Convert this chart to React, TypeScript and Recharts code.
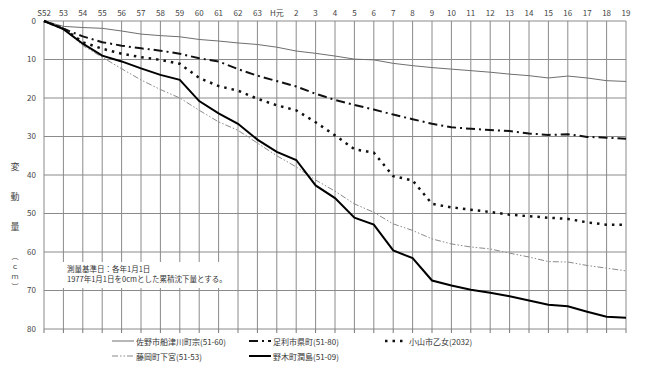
import { LineChart, Line, XAxis, YAxis, CartesianGrid } from 'recharts';

const years = [
  'S52', '53', '54', '55', '56', '57', '58', '59', '60', '61', '62', '63',
  'H元', '2', '3', '4', '5', '6', '7', '8', '9', '10', '11', '12', '13', '14',
  '15', '16', '17', '18', '19',
];

// 累積沈下量 (cm)
const sano = [0, 1.4, 1.7, 1.9, 2.6, 3.4, 3.8, 4.1, 4.8, 5.2, 5.7, 6.1, 6.8, 7.8, 8.4, 9.1, 9.9, 10.1, 11.0, 11.6, 12.1, 12.5, 12.9, 13.3, 13.8, 14.2, 14.8, 14.3, 14.8, 15.5, 15.7];
const ashikaga = [0, 2.0, 4.0, 5.5, 6.4, 7.1, 7.7, 8.5, 9.7, 10.5, 12.5, 14.2, 15.6, 17.0, 18.9, 20.5, 21.8, 23.0, 24.3, 25.5, 26.7, 27.6, 28.0, 28.3, 28.6, 29.2, 29.6, 29.4, 30.1, 30.3, 30.6];
const oyama = [0, 1.9, 5.5, 7.2, 8.5, 9.4, 10.1, 11.1, 14.8, 16.9, 18.1, 20.2, 21.9, 23.2, 26.3, 29.7, 33.3, 34.2, 40.3, 41.4, 47.5, 48.4, 49.0, 49.6, 50.3, 50.7, 51.1, 51.4, 52.3, 52.9, 52.9];
const fujioka = [0, 2.0, 6.4, 9.4, 12.4, 15.3, 17.8, 20.0, 23.2, 26.2, 28.4, 31.7, 35.0, 37.9, 41.3, 44.2, 47.5, 49.7, 52.7, 54.4, 56.6, 57.9, 58.7, 59.2, 60.3, 61.3, 62.5, 62.6, 63.5, 64.2, 64.9];
const nogi = [0, 2.1, 5.9, 9.0, 10.5, 12.3, 14.0, 15.3, 20.8, 24.0, 26.7, 30.8, 34.0, 36.1, 42.7, 46.0, 51.1, 52.9, 59.6, 61.6, 67.4, 68.7, 69.8, 70.6, 71.5, 72.6, 73.7, 74.1, 75.5, 76.8, 77.1];

const yTicks = [0, 10, 20, 30, 40, 50, 60, 70, 80];

const data = years.map((y, i) => ({
  year: y,
  sano: sano[i],
  ashikaga: ashikaga[i],
  oyama: oyama[i],
  fujioka: fujioka[i],
  nogi: nogi[i],
}));

const FONT = '"Noto Sans CJK JP", "Noto Sans", sans-serif';

const series = [
  { key: 'sano', name: '佐野市船津川町宗(51-60)', color: '#6e6e6e', width: 1, dash: undefined },
  { key: 'ashikaga', name: '足利市県町(51-80)', color: '#111', width: 2, dash: '9 4 2 4' },
  { key: 'oyama', name: '小山市乙女(2032)', color: '#111', width: 2.5, dash: '2.5 5' },
  { key: 'fujioka', name: '藤岡町下宮(51-53)', color: '#8a8a8a', width: 1, dash: '6 2 1.5 2 1.5 2' },
  { key: 'nogi', name: '野木町潤島(51-09)', color: '#000', width: 2, dash: undefined },
];

const legendPos = [
  { x: 112, y: 341 },
  { x: 249, y: 341 },
  { x: 385, y: 341 },
  { x: 112, y: 356 },
  { x: 249, y: 356 },
];

const titleChars = [
  { c: '変', y: 167 },
  { c: '動', y: 197 },
  { c: '量', y: 227 },
  { c: '︵', y: 256 },
  { c: 'ｃ', y: 266 },
  { c: 'ｍ', y: 276 },
  { c: '︶', y: 286 },
];

export default function App() {
  return (
    <div style={{ position: 'absolute', left: 0, top: 0, width: 650, height: 368, background: '#fff', fontFamily: FONT }}>
      <LineChart width={650} height={368} data={data} margin={{ top: 0, right: 24, left: 0, bottom: 35 }}>
        <CartesianGrid stroke="#8a8a8a" strokeWidth={1} />
        <XAxis
          dataKey="year"
          orientation="top"
          height={21}
          tickSize={0}
          tickMargin={5}
          axisLine={false}
          interval={0}
          tick={{ fontSize: 8, fill: '#444', fontFamily: FONT }}
        />
        <XAxis
          xAxisId="bottom"
          dataKey="year"
          orientation="bottom"
          height={4}
          tickSize={4}
          axisLine={false}
          interval={0}
          tickLine={{ stroke: '#777' }}
          tickFormatter={() => ''}
        />
        <YAxis
          width={44}
          domain={[0, 80]}
          ticks={yTicks}
          reversed
          tickSize={0}
          tickMargin={8}
          axisLine={false}
          interval={0}
          tick={{ fontSize: 8, fill: '#444', fontFamily: FONT }}
        />
        {series.map((s) => (
          <Line
            key={s.key}
            dataKey={s.key}
            type="linear"
            stroke={s.color}
            strokeWidth={s.width}
            strokeDasharray={s.dash}
            dot={false}
            activeDot={false}
            isAnimationActive={false}
          />
        ))}
      </LineChart>

      {/* 縦軸タイトル */}
      {titleChars.map((t, i) => (
        <div
          key={i}
          style={{
            position: 'absolute',
            left: 9,
            top: t.y - 5,
            width: 12,
            height: 10,
            textAlign: 'center',
            fontSize: i < 3 ? 9 : 7,
            lineHeight: '10px',
            color: '#444',
          }}
        >
          {t.c}
        </div>
      ))}

      {/* 注記 */}
      <div
        style={{
          position: 'absolute',
          left: 62,
          top: 262,
          width: 173,
          height: 26,
          background: '#fff',
          fontSize: 7.5,
          lineHeight: '10px',
          color: '#333',
          paddingLeft: 5,
          paddingTop: 2,
          boxSizing: 'border-box',
          whiteSpace: 'nowrap',
        }}
      >
        <div>測量基準日：各年1月1日</div>
        <div>1977年1月1日を0cmとした累積沈下量とする。</div>
      </div>

      {/* 凡例 */}
      {series.map((s, i) => (
        <div
          key={s.key}
          style={{
            position: 'absolute',
            left: legendPos[i].x,
            top: legendPos[i].y - 6,
            height: 12,
            display: 'flex',
            alignItems: 'center',
            fontSize: 8,
            color: '#333',
            whiteSpace: 'nowrap',
          }}
        >
          <svg width={22} height={12} style={{ marginRight: 2 }}>
            <line x1={0} y1={6} x2={22} y2={6} stroke={s.color} strokeWidth={s.width} strokeDasharray={s.dash} />
          </svg>
          <span>{s.name}</span>
        </div>
      ))}
    </div>
  );
}
